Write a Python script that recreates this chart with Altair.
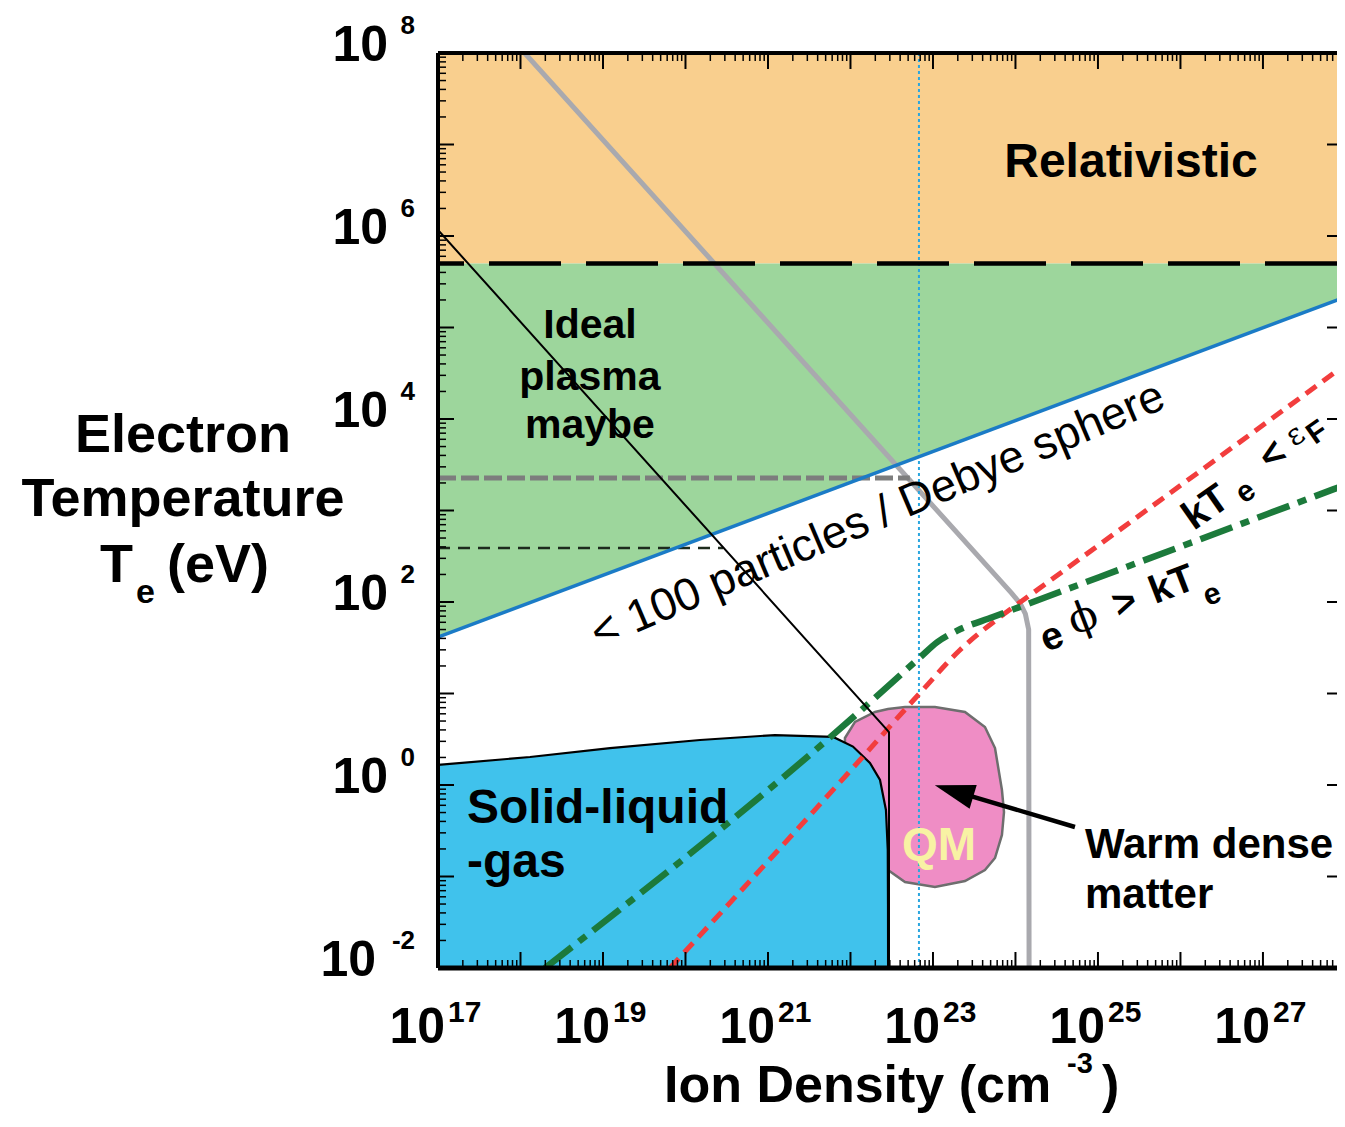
import altair as alt
import pandas as pd

# ---------------- chart values (log10 of density [cm^-3] and temperature [eV]) ----------------
REL_T = 5.0e5                                   # relativistic threshold
DEBYE_LOGN = [17.0, 27.994]                     # "<100 particles / Debye sphere" boundary
DEBYE_LOGT = [1.617, 5.333]

SLG_LOGN = [17.0, 18.115, 19.085, 20.176, 21.085, 21.79, 22.03, 22.236, 22.358, 22.43, 22.452, 22.455, 22.456]
SLG_LOGT = [0.219, 0.306, 0.404, 0.492, 0.546, 0.525, 0.42, 0.24, 0.055, -0.273, -0.71, -1.3, -2.0]

WDM_LOGN = [21.933, 22.055, 22.297, 22.455, 22.661, 23.024, 23.388, 23.630, 23.752, 23.836, 23.861]
WDM_TOP = [0.514, 0.689, 0.798, 0.831, 0.852, 0.852, 0.798, 0.634, 0.404, -0.055, -0.295]
WDM_BOT = [0.437, 0.273, -0.055, -0.929, -1.060, -1.115, -1.049, -0.929, -0.798, -0.546, -0.295]

BLACK_LOGN = [17.0, 22.467, 22.467]
BLACK_LOGT = [6.066, 0.579, -2.0]

GRAY_LOGN = [17.95, 23.95, 24.06, 24.12, 24.16, 24.165]
GRAY_LOGT = [8.1, 2.10, 1.98, 1.87, 1.70, -2.0]

RED_LOGN = [19.812, 22.115, 22.842, 23.327, 23.812, 24.212, 27.994]
RED_LOGT = [-2.0, 0.273, 1.005, 1.475, 1.836, 2.098, 4.59]

GRN_LOGN = [18.297, 21.994, 22.85, 23.05, 23.30, 23.727, 24.212, 27.994]
GRN_LOGT = [-2.0, 0.71, 1.40, 1.56, 1.69, 1.836, 2.0, 3.279]

SOLID_DENSITY_LOGN = 22.83
GRAYDASH_LOGT, GRAYDASH_END_LOGN = 3.355, 22.72
BLKDASH_LOGT, BLKDASH_END_LOGN = 2.59, 20.455

ARROW_LOGN = [24.721, 23.255]
ARROW_LOGT = [-0.459, -0.066]

X_LABEL_LOG = [17, 19, 21, 23, 25, 27]
X_LABEL_EXP = ["17", "19", "21", "23", "25", "27"]
Y_LABEL_LOG = [-2, 0, 2, 4, 6, 8]
Y_LABEL_EXP = ["-2", "0", "2", "4", "6", "8"]

# ---------------- layout ----------------
W, H = 899, 915
FONT = "Liberation Sans"
SERIF = "DejaVu Serif"
xs = alt.Scale(type="log", domain=[1e17, 7.9e27], nice=False)
ys = alt.Scale(type="log", domain=[1e-2, 1e8], nice=False)


def P(v):
    return [10 ** x for x in v]


def X(f="n"):
    return alt.X(f"{f}:Q", scale=xs, axis=None)


def Y(f="T"):
    return alt.Y(f"{f}:Q", scale=ys, axis=None)


layers = []

# fills
layers.append(alt.Chart(pd.DataFrame({"n": [1e17, 1e28], "top": [1e8, 1e8], "bot": [REL_T, REL_T]}))
              .mark_area(color="#f9cf8e", clip=True)
              .encode(x=X(), y=Y("top"), y2=alt.Y2("bot")))
layers.append(alt.Chart(pd.DataFrame({"n": P(DEBYE_LOGN), "top": [REL_T, REL_T], "bot": P(DEBYE_LOGT)}))
              .mark_area(color="#9dd69c", clip=True)
              .encode(x=X(), y=Y("top"), y2=alt.Y2("bot")))
layers.append(alt.Chart(pd.DataFrame({"n": P(WDM_LOGN), "top": P(WDM_TOP), "bot": P(WDM_BOT)}))
              .mark_area(color="#ef8dc5", stroke="#6e6e6e", strokeWidth=2.5, clip=True)
              .encode(x=X(), y=Y("top"), y2=alt.Y2("bot")))
layers.append(alt.Chart(pd.DataFrame({"n": P(SLG_LOGN), "top": P(SLG_LOGT), "bot": [1e-2] * len(SLG_LOGN)}))
              .mark_area(color="#40c2ec", stroke="black", strokeWidth=2.2, clip=True)
              .encode(x=X(), y=Y("top"), y2=alt.Y2("bot")))

# gray line
layers.append(alt.Chart(pd.DataFrame({"n": P(GRAY_LOGN), "T": P(GRAY_LOGT), "i": range(len(GRAY_LOGN))}))
              .mark_line(color="#a9a9ae", strokeWidth=5, clip=True)
              .encode(x=X(), y=Y(), order="i:Q"))
# solid density dotted vertical
layers.append(alt.Chart(pd.DataFrame({"n": [10 ** SOLID_DENSITY_LOGN]}))
              .mark_rule(color="#2aa6df", strokeWidth=2, strokeDash=[3, 3])
              .encode(x=X()))
# horizontal dashed lines
layers.append(alt.Chart(pd.DataFrame({"n": [1e17], "n2": [10 ** GRAYDASH_END_LOGN], "T": [10 ** GRAYDASH_LOGT]}))
              .mark_rule(color="#7d7d7d", strokeWidth=5, strokeDash=[18, 5])
              .encode(x=X(), x2=alt.X2("n2"), y=Y()))
layers.append(alt.Chart(pd.DataFrame({"n": [1e17], "n2": [10 ** BLKDASH_END_LOGN], "T": [10 ** BLKDASH_LOGT]}))
              .mark_rule(color="#1d2b1d", strokeWidth=2.5, strokeDash=[12, 8])
              .encode(x=X(), x2=alt.X2("n2"), y=Y()))
# Debye line
layers.append(alt.Chart(pd.DataFrame({"n": P(DEBYE_LOGN), "T": P(DEBYE_LOGT)}))
              .mark_line(color="#1b7bc6", strokeWidth=3.5, clip=True)
              .encode(x=X(), y=Y()))
# red dashed
layers.append(alt.Chart(pd.DataFrame({"n": P(RED_LOGN), "T": P(RED_LOGT)}))
              .mark_line(color="#f23d3d", strokeWidth=5, strokeDash=[13, 8], interpolate="monotone", clip=True)
              .encode(x=X(), y=Y()))
# green dash-dot
layers.append(alt.Chart(pd.DataFrame({"n": P(GRN_LOGN), "T": P(GRN_LOGT)}))
              .mark_line(color="#1c7a3b", strokeWidth=6.5, strokeDash=[34, 9, 9, 9], interpolate="monotone",
                         clip=True)
              .encode(x=X(), y=Y()))
# relativistic dashed
layers.append(alt.Chart(pd.DataFrame({"T": [REL_T]}))
              .mark_rule(color="black", strokeWidth=4.5, strokeDash=[72, 25])
              .encode(y=Y()))
# black thin line
layers.append(alt.Chart(pd.DataFrame({"n": P(BLACK_LOGN), "T": P(BLACK_LOGT), "i": range(3)}))
              .mark_line(color="black", strokeWidth=2, clip=True)
              .encode(x=X(), y=Y(), order="i:Q"))
# arrow
layers.append(alt.Chart(pd.DataFrame({"n": P(ARROW_LOGN), "T": P(ARROW_LOGT)}))
              .mark_line(color="black", strokeWidth=4.5)
              .encode(x=X(), y=Y()))
layers.append(alt.Chart(pd.DataFrame({"n": [10 ** ARROW_LOGN[1]], "T": [10 ** ARROW_LOGT[1]]}))
              .mark_point(shape="M0,-1L0.62,1L-0.62,1Z", size=1600, angle=286.7, filled=True,
                          color="black", opacity=1)
              .encode(x=X(), y=Y()))


def label(rows, size, weight="bold", align="center", baseline="alphabetic", angle=0,
          color="black", font=FONT):
    df = pd.DataFrame(rows, columns=["t", "ln", "lt"])
    df["n"] = 10 ** df["ln"]
    df["T"] = 10 ** df["lt"]
    return (alt.Chart(df)
            .mark_text(font=font, fontSize=size, fontWeight=weight, align=align, baseline=baseline,
                       angle=angle, color=color)
            .encode(x=X(), y=Y(), text="t:N"))


layers.append(label([("Relativistic", 25.40, 6.645)], 48))
layers.append(label([("Ideal", 18.842, 4.885), ("plasma", 18.842, 4.317), ("maybe", 18.842, 3.792)], 41))
layers.append(label([("Solid-liquid", 17.352, -0.415), ("-gas", 17.352, -1.005)], 48, align="left"))
layers.append(label([("QM", 23.073, -0.820)], 46, color="#f8f2a4"))
layers.append(label([("Warm dense", 24.842, -0.798), ("matter", 24.842, -1.344)], 42, align="left"))
layers.append(label([("< 100 particles / Debye sphere", 22.33, 2.95)], 45.5, weight="normal",
                    baseline="middle", angle=337))
# kT_e < eps_F
layers.append(label([("kT", 26.31, 3.03), ("<", 27.12, 3.60)], 40, baseline="middle", angle=325))
layers.append(label([("e", 26.79, 3.20)], 30, baseline="middle", angle=325))
layers.append(label([("ε", 27.39, 3.82)], 30, weight="normal", baseline="middle", angle=325, font=SERIF))
layers.append(label([("F", 27.66, 3.85)], 30, baseline="middle", angle=325))
# e phi > kT_e
layers.append(label([("e", 24.442, 1.617), (">", 25.327, 1.989), ("kT", 25.897, 2.186)], 39,
                    baseline="middle", angle=339))
layers.append(label([("ϕ", 24.818, 1.825)], 42, weight="normal", baseline="middle", angle=339, font=SERIF))
layers.append(label([("e", 26.382, 2.077)], 30, baseline="middle", angle=339))

# ---------------- frame & inward ticks ----------------
XMAJ = [10.0 ** e for e in range(17, 28)]
XMIN = [m * 10.0 ** e for e in range(17, 28) for m in range(2, 10) if m * 10.0 ** e <= 7.9e27]
YMAJ = [10.0 ** e for e in range(-2, 9)]
YMIN = [m * 10.0 ** e for e in range(-2, 8) for m in range(2, 10)]


def xticks(vals, y0, y1, w):
    return (alt.Chart(pd.DataFrame({"n": vals})).mark_rule(color="black", strokeWidth=w)
            .encode(x=X(), y=alt.value(y0), y2=alt.value(y1)))


def yticks(vals, x0, x1, w):
    return (alt.Chart(pd.DataFrame({"T": vals})).mark_rule(color="black", strokeWidth=w)
            .encode(y=Y(), x=alt.value(x0), x2=alt.value(x1)))


layers += [
    xticks(XMAJ, H, H - 16, 2), xticks(XMIN, H, H - 8, 1.5),
    xticks(XMAJ, 0, 16, 2), xticks(XMIN, 0, 8, 1.5),
    yticks(YMAJ, 0, 16, 2), yticks(YMIN, 0, 8, 1.5),
    yticks(YMAJ, W, W - 10, 2),
]
one = pd.DataFrame({"a": [0]})
layers.append(alt.Chart(one).mark_rule(color="black", strokeWidth=4)
              .encode(x=alt.value(0), y=alt.value(0), y2=alt.value(H)))
layers.append(alt.Chart(one).mark_rule(color="black", strokeWidth=4)
              .encode(y=alt.value(0), x=alt.value(0), x2=alt.value(W)))
layers.append(alt.Chart(one).mark_rule(color="black", strokeWidth=5)
              .encode(y=alt.value(H), x=alt.value(0), x2=alt.value(W)))

# ---------------- tick labels ----------------
xl = pd.DataFrame({"n": [10.0 ** e for e in X_LABEL_LOG], "e": X_LABEL_EXP, "b": ["10"] * len(X_LABEL_LOG)})
layers.append(alt.Chart(xl).mark_text(font=FONT, fontSize=50, fontWeight="bold", align="right",
                                      baseline="alphabetic", dx=7)
              .encode(x=X(), y=alt.value(990), text="b:N"))
layers.append(alt.Chart(xl).mark_text(font=FONT, fontSize=30, fontWeight="bold", align="left",
                                      baseline="alphabetic", dx=10)
              .encode(x=X(), y=alt.value(969), text="e:N"))

yl = pd.DataFrame({"T": [10.0 ** e for e in Y_LABEL_LOG], "e": Y_LABEL_EXP, "b": ["10"] * len(Y_LABEL_LOG)})
layers.append(alt.Chart(yl).transform_filter("indexof(datum.e, '-') < 0")
              .mark_text(font=FONT, fontSize=50, fontWeight="bold", align="right", baseline="alphabetic", dy=8)
              .encode(y=Y(), x=alt.value(-50), text="b:N"))
layers.append(alt.Chart(yl).transform_filter("indexof(datum.e, '-') >= 0")
              .mark_text(font=FONT, fontSize=50, fontWeight="bold", align="right", baseline="alphabetic", dy=8)
              .encode(y=Y(), x=alt.value(-62), text="b:N"))
layers.append(alt.Chart(yl).mark_text(font=FONT, fontSize=26, fontWeight="bold", align="right",
                                      baseline="alphabetic", dy=-19)
              .encode(y=Y(), x=alt.value(-23), text="e:N"))


def fixed_text(text, x, y, size, align="left", weight="bold"):
    return (alt.Chart(pd.DataFrame({"t": [text]}))
            .mark_text(font=FONT, fontSize=size, fontWeight=weight, align=align, baseline="alphabetic",
                       color="black")
            .encode(x=alt.value(x), y=alt.value(y), text="t:N"))


# axis titles
layers += [
    fixed_text("Electron", -255, 399, 54, align="center"),
    fixed_text("Temperature", -255, 463, 54, align="center"),
    fixed_text("T", -338, 529, 54),
    fixed_text("e", -302, 550, 34),
    fixed_text("(eV)", -271, 529, 54),
    fixed_text("Ion Density (cm", 226, 1049, 52),
    fixed_text("-3", 629, 1020, 29),
    fixed_text(")", 664, 1049, 52),
]

chart = (alt.layer(*layers)
         .properties(width=W, height=H, background="white",
                     padding={"left": 430, "top": 45, "right": 0, "bottom": 150},
                     autosize=alt.AutoSizeParams(type="none"))
         .configure_view(stroke=None))

chart.save("out.html", embed_options={"renderer": "svg", "actions": False})
